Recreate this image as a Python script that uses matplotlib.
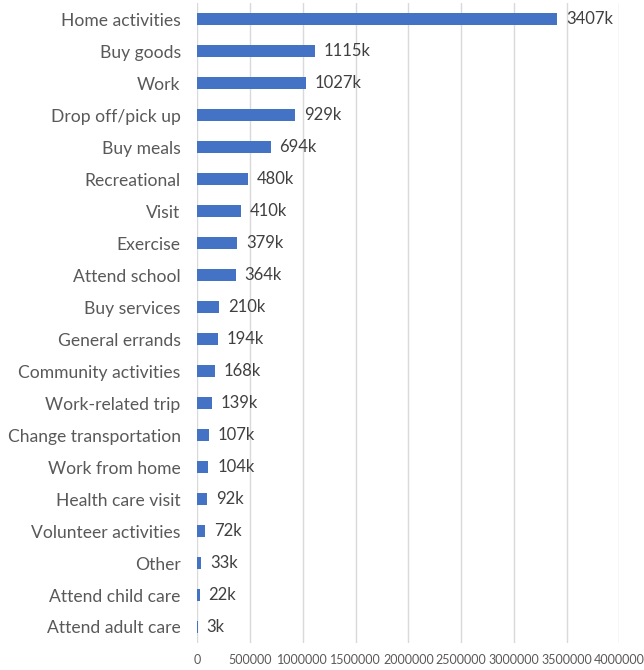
import matplotlib.pyplot as plt
import numpy as np

# trip purposes, largest first
purposes = ["Home activities", "Buy goods", "Work", "Drop off/pick up", "Buy meals",
            "Recreational", "Visit", "Exercise", "Attend school", "Buy services",
            "General errands", "Community activities", "Work-related trip",
            "Change transportation", "Work from home", "Health care visit",
            "Volunteer activities", "Other", "Attend child care", "Attend adult care"]
trips_k = [3407, 1115, 1027, 929, 694, 480, 410, 379, 364, 210,
           194, 168, 139, 107, 104, 92, 72, 33, 22, 3]
xticks = [0, 500000, 1000000, 1500000, 2000000, 2500000, 3000000, 3500000, 4000000]

plt.rcParams['font.family'] = ['Lato', 'DejaVu Sans']

fig = plt.figure(figsize=(6.44, 6.70), dpi=100)
ax = fig.add_axes([0.3064, 0.0403, 0.6553, 0.9552])

y = np.arange(len(purposes))
vals = np.array(trips_k) * 1000
ax.barh(y, vals, height=0.36, color='#4472C4', zorder=3)

for yi, v, k in zip(y, vals, trips_k):
    ax.annotate(f"{k}k", (v, yi), xytext=(6.5, 0), textcoords='offset points',
                va='center', ha='left', fontsize=12, color='#404040')

ax.set_xlim(0, 4000000)
ax.set_ylim(len(purposes) - 0.5, -0.5)
ax.set_xticks(xticks)
ax.set_xticklabels([str(t) for t in xticks], fontsize=9, color='#595959')
ax.set_yticks(y)
ax.set_yticklabels(purposes, fontsize=12.6, color='#595959')
ax.tick_params(axis='both', length=0)
ax.tick_params(axis='y', pad=12)
ax.tick_params(axis='x', pad=8)
ax.grid(axis='x', color='#d9d9d9', linewidth=1, zorder=0)
for s in ax.spines.values():
    s.set_visible(False)

plt.savefig("out.png", dpi=100)
